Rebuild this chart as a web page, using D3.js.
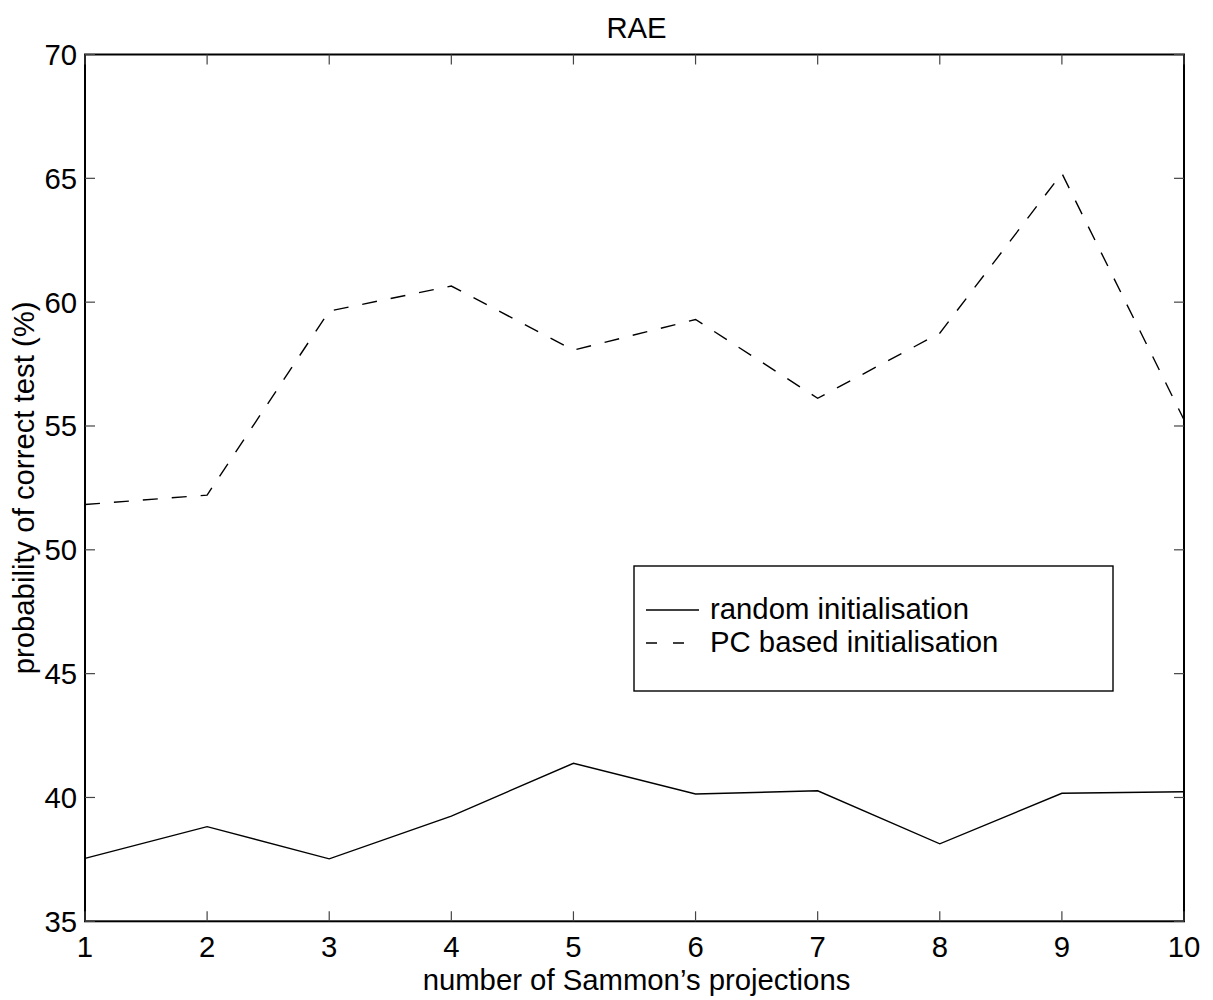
<!DOCTYPE html>
<html>
<head>
<meta charset="utf-8">
<script src="https://cdn.jsdelivr.net/npm/d3@7"></script>
<style>
  html, body { margin: 0; padding: 0; background: #fff; }
  text { font-family: "Liberation Sans", Arial, Helvetica, sans-serif; fill: #000; }
</style>
</head>
<body>
<svg id="chart" width="1213" height="1000"></svg>
<script>
const xValues = [1, 2, 3, 4, 5, 6, 7, 8, 9, 10];
const randomInit = [37.54, 38.82, 37.52, 39.25, 41.38, 40.14, 40.27, 38.13, 40.17, 40.23];
const pcInit = [51.83, 52.21, 59.64, 60.65, 58.06, 59.3, 56.12, 58.75, 65.2, 55.25];
const xTicks = [1, 2, 3, 4, 5, 6, 7, 8, 9, 10];
const yTicks = [35, 40, 45, 50, 55, 60, 65, 70];
const seriesNames = ["random initialisation", "PC based initialisation"];
const titleText = "RAE";
const xLabelText = "number of Sammon\u2019s projections";
const yLabelText = "probability of correct test (%)";

(function () {
const svg = d3.select("#chart");
const pL = 85, pR = 1184, pT = 54.5, pB = 921.3;

const x = d3.scaleLinear().domain([1, 10]).range([pL, pR]);
const y = d3.scaleLinear().domain([35, 70]).range([pB, pT]);

const fs = 29.3;

// frame
svg.append("rect")
  .attr("x", pL).attr("y", pT)
  .attr("width", pR - pL).attr("height", pB - pT)
  .attr("fill", "none").attr("stroke", "#000").attr("stroke-width", 2);

// ticks (inward, on both sides)
const tl = 10;
const tickG = svg.append("g").attr("stroke", "#444").attr("stroke-width", 1.2);
xTicks.forEach(t => {
  tickG.append("line").attr("x1", x(t)).attr("x2", x(t)).attr("y1", pB).attr("y2", pB - tl);
  tickG.append("line").attr("x1", x(t)).attr("x2", x(t)).attr("y1", pT).attr("y2", pT + tl);
});
yTicks.forEach(t => {
  tickG.append("line").attr("x1", pL).attr("x2", pL + tl).attr("y1", y(t)).attr("y2", y(t));
  tickG.append("line").attr("x1", pR).attr("x2", pR - tl).attr("y1", y(t)).attr("y2", y(t));
});

// tick labels
svg.append("g").selectAll("text").data(xTicks).join("text")
  .attr("x", d => x(d)).attr("y", pB + 36)
  .attr("text-anchor", "middle").attr("font-size", fs)
  .text(d => d);
svg.append("g").selectAll("text").data(yTicks).join("text")
  .attr("x", pL - 8).attr("y", d => y(d) + 10.5)
  .attr("text-anchor", "end").attr("font-size", fs)
  .text(d => d);

// title and axis labels
svg.append("text").attr("x", (pL + pR) / 2 + 2).attr("y", 38)
  .attr("text-anchor", "middle").attr("font-size", fs).text(titleText);
svg.append("text").attr("x", (pL + pR) / 2 + 2).attr("y", 990)
  .attr("text-anchor", "middle").attr("font-size", fs).text(xLabelText);
svg.append("text")
  .attr("transform", `translate(34, ${(pT + pB) / 2}) rotate(-90)`)
  .attr("text-anchor", "middle").attr("font-size", fs).text(yLabelText);

// lines
const line = d3.line().x((d, i) => x(xValues[i])).y(d => y(d));
svg.append("path").datum(randomInit)
  .attr("d", line).attr("fill", "none").attr("stroke", "#000").attr("stroke-width", 1.4);
svg.append("path").datum(pcInit)
  .attr("d", line).attr("fill", "none").attr("stroke", "#000").attr("stroke-width", 1.4)
  .attr("stroke-dasharray", "15,14");

// legend
const lg = svg.append("g");
lg.append("rect").attr("x", 634).attr("y", 566).attr("width", 479).attr("height", 125)
  .attr("fill", "#fff").attr("stroke", "#000").attr("stroke-width", 1.4);
const rows = [{ name: seriesNames[0], dash: null, yy: 610 }, { name: seriesNames[1], dash: "11,16", yy: 643 }];
rows.forEach(r => {
  const l = lg.append("line").attr("x1", 646).attr("x2", 699).attr("y1", r.yy).attr("y2", r.yy)
    .attr("stroke", "#000").attr("stroke-width", 1.4);
  if (r.dash) l.attr("stroke-dasharray", r.dash);
  lg.append("text").attr("x", 710).attr("y", r.yy + 9).attr("font-size", fs).text(r.name);
});
})();
</script>
</body>
</html>
